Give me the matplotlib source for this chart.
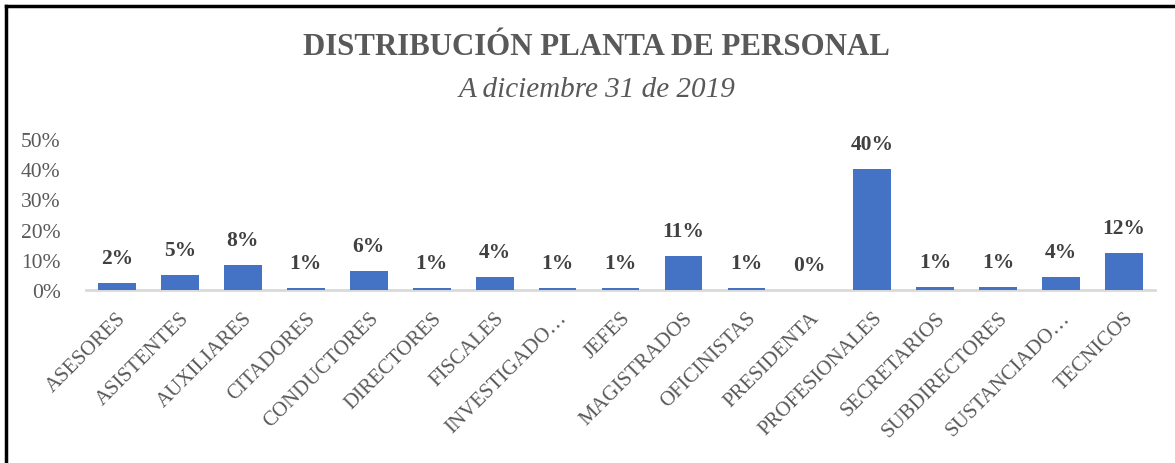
import matplotlib.pyplot as plt
from matplotlib.lines import Line2D

# Datos
categorias = ['ASESORES', 'ASISTENTES', 'AUXILIARES', 'CITADORES', 'CONDUCTORES',
              'DIRECTORES', 'FISCALES', 'INVESTIGADO…', 'JEFES', 'MAGISTRADOS',
              'OFICINISTAS', 'PRESIDENTA', 'PROFESIONALES', 'SECRETARIOS',
              'SUBDIRECTORES', 'SUSTANCIADO…', 'TECNICOS']
porcentajes = [0.023, 0.049, 0.084, 0.006, 0.064,
               0.006, 0.044, 0.008, 0.008, 0.112,
               0.006, 0.001, 0.401, 0.010,
               0.010, 0.043, 0.122]
ticks_y = [0, 0.1, 0.2, 0.3, 0.4, 0.5]

plt.rcParams['font.family'] = ['Liberation Serif', 'DejaVu Serif']

fig = plt.figure(figsize=(11.75, 4.64), dpi=100)
ax = fig.add_axes([0.0728, 0.373, 0.9106, 0.325])

x = range(len(categorias))
ax.bar(x, porcentajes, width=0.6, color='#4472C4', zorder=3)

for xi, v in zip(x, porcentajes):
    ax.text(xi, v + 0.049, f"{round(v * 100):.0f}%", ha='center', va='bottom',
            fontsize=15.5, fontweight='bold', color='#404040')

ax.set_xlim(-0.5, len(categorias) - 0.5)
ax.set_ylim(0, 0.5)
ax.set_yticks(ticks_y)
ax.set_yticklabels([f"{int(t * 100)}%" for t in ticks_y], fontsize=15.5, color='#595959')
ax.set_xticks(list(x))
ax.set_xticklabels(categorias, rotation=45, ha='right', rotation_mode='anchor',
                   fontsize=15, color='#595959')
ax.tick_params(axis='both', length=0)
ax.tick_params(axis='x', pad=13)
ax.tick_params(axis='y', pad=18)
for s in ['top', 'right', 'left']:
    ax.spines[s].set_visible(False)
ax.spines['bottom'].set_color('#d9d9d9')
ax.spines['bottom'].set_linewidth(2)

fig.text(0.508, 0.897, 'DISTRIBUCIÓN PLANTA DE PERSONAL', ha='center', va='center',
         fontsize=22.2, fontweight='bold', color='#595959')
fig.text(0.508, 0.805, 'A diciembre 31 de 2019', ha='center', va='center',
         fontsize=21, style='italic', color='#595959')

# marco (sólo arriba e izquierda visibles)
fig.add_artist(Line2D([0.0055, 1.0], [0.985, 0.985], color='black', lw=2.5,
                      transform=fig.transFigure))
fig.add_artist(Line2D([0.0055, 0.0055], [0.0, 0.985], color='black', lw=2.5,
                      transform=fig.transFigure))

fig.savefig('out.png', dpi=100, facecolor='white')
